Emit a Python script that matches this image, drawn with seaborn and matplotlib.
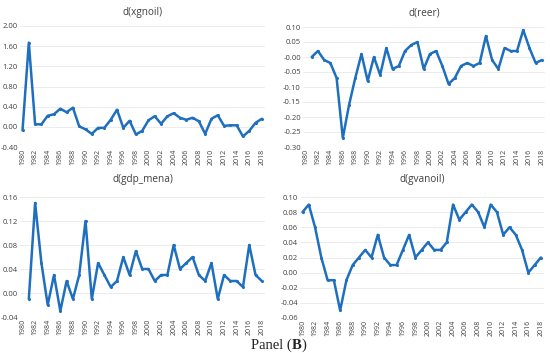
import numpy as np
import matplotlib
matplotlib.use("Agg")
import matplotlib.pyplot as plt
import seaborn as sns

years = list(range(1980, 2019))
years_from_1981 = years[1:]
tick_years = years[::2]

xgnoil = [-0.07, 1.67, 0.05, 0.05, 0.22, 0.25, 0.36, 0.29, 0.38, 0.01,
          -0.05, -0.14, -0.02, -0.02, 0.14, 0.34, -0.02, 0.12, -0.15, -0.08,
          0.13, 0.21, 0.06, 0.21, 0.27, 0.18, 0.14, 0.18, 0.11, -0.14,
          0.16, 0.23, 0.02, 0.03, 0.03, -0.19, -0.08, 0.08, 0.16]
reer = [0.00, 0.02, -0.01, -0.02, -0.07, -0.27, -0.16, -0.07, 0.01, -0.08,
        0.00, -0.06, 0.03, -0.04, -0.03, 0.02, 0.04, 0.05, -0.04, 0.01,
        0.02, -0.03, -0.09, -0.07, -0.03, -0.02, -0.03, -0.02, 0.07, -0.01,
        -0.04, 0.03, 0.02, 0.02, 0.09, 0.03, -0.02, -0.01]
gdp_mena = [-0.01, 0.15, 0.05, -0.02, 0.03, -0.03, 0.02, -0.01, 0.03, 0.12,
            -0.01, 0.05, 0.03, 0.01, 0.02, 0.06, 0.03, 0.07, 0.04, 0.04,
            0.02, 0.03, 0.03, 0.08, 0.04, 0.05, 0.06, 0.03, 0.02, 0.05,
            -0.01, 0.03, 0.02, 0.02, 0.01, 0.08, 0.03, 0.02]
gvanoil = [0.08, 0.09, 0.06, 0.02, -0.01, -0.01, -0.05, -0.01, 0.01, 0.02,
           0.03, 0.02, 0.05, 0.02, 0.01, 0.01, 0.03, 0.05, 0.02, 0.03,
           0.04, 0.03, 0.03, 0.04, 0.09, 0.07, 0.08, 0.09, 0.08, 0.06,
           0.09, 0.08, 0.05, 0.06, 0.05, 0.03, 0.00, 0.01, 0.02]

sns.set_style("white")
plt.rcParams["font.family"] = ["Open Sans", "DejaVu Sans"]

W, H = 550, 353
fig = plt.figure(figsize=(5.5, 3.53), dpi=100)
blue = "#1f6fbf"
txt = "#404040"


def make_ax(left, top, right, bottom):
    return fig.add_axes([left / W, 1 - bottom / H, (right - left) / W, (bottom - top) / H])


panels = [
    ("d(xgnoil)", years, xgnoil, (20, 26, 265, 147), (-0.4, 2.0), np.arange(-0.4, 2.01, 0.4), 8),
    ("d(reer)", years_from_1981, reer, (303, 27, 545, 147), (-0.3, 0.1), np.arange(-0.3, 0.101, 0.05), 8),
    ("d(gdp_mena)", years_from_1981, gdp_mena, (20, 197, 265, 317), (-0.04, 0.16), np.arange(-0.04, 0.161, 0.04), 11),
    ("d(gvanoil)", years, gvanoil, (300, 197, 544, 318), (-0.06, 0.10), np.arange(-0.06, 0.101, 0.02), 11),
]

for title, xs, ys, box, ylim, yticks, tpad in panels:
    ax = make_ax(*box)
    sns.lineplot(x=xs, y=ys, ax=ax, color=blue, linewidth=1.8,
                 marker="o", markersize=2.2, markeredgewidth=0)
    ax.set_xlim(1979.6, 2018.5)
    ax.set_ylim(*ylim)
    ax.set_yticks(yticks)
    ax.set_yticklabels([f"{v:.2f}" for v in yticks], fontsize=5.5, color=txt)
    ax.set_xticks(tick_years)
    ax.set_xticklabels([str(y) for y in tick_years], rotation=90, fontsize=5.0, color=txt)
    ax.set_xticks(range(1982, 2019, 4), minor=True)
    ax.grid(False)
    ax.grid(True, axis="y", color="#ececec", linewidth=0.7)
    ax.grid(True, axis="x", which="minor", color="#ececec", linewidth=0.7)
    ax.tick_params(axis="both", length=0, pad=1.5)
    ax.tick_params(axis="x", which="minor", length=0)
    for s in ax.spines.values():
        s.set_visible(False)
    ax.set_title(title, fontsize=7.2, color=txt, pad=tpad)

ty = 0.012
t1 = fig.text(0.457, ty, "Panel (", family="Liberation Serif", fontsize=10.5, color="#222222")
t2 = fig.text(0, ty, "B", family="Liberation Serif", fontsize=10.5, weight="bold", color="#222222")
t3 = fig.text(0, ty, ")", family="Liberation Serif", fontsize=10.5, color="#222222")
fig.canvas.draw()
r = fig.canvas.get_renderer()
bb1 = t1.get_window_extent(r)
t2.set_position((bb1.x1 / W, ty))
fig.canvas.draw()
bb2 = t2.get_window_extent(r)
t3.set_position((bb2.x1 / W, ty))

fig.savefig("out.png", dpi=100)
